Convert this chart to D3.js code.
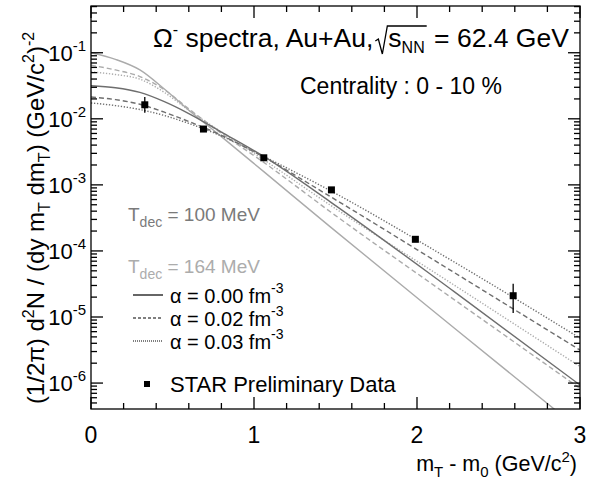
<!DOCTYPE html>
<html>
<head>
<meta charset="utf-8">
<script src="https://cdn.jsdelivr.net/npm/d3@7"></script>
<style>
  body { margin: 0; background: #fff; }
  text { font-family: "Liberation Sans", Arial, sans-serif; white-space: pre; }
</style>
</head>
<body>
<svg id="chart" width="595" height="479"></svg>
<script>
// curve sample positions (GeV/c^2)
const curveX = [0, 0.15, 0.3, 0.45, 0.6, 0.8, 1.06, 1.47, 2.23, 3.0];
// log10 of yield
const t164a00 = [-1.00, -1.10, -1.26, -1.55, -1.87, -2.27, -2.80, -3.64, -5.17, -6.71];
const t164a02 = [-1.19, -1.26, -1.36, -1.56, -1.85, -2.22, -2.66, -3.41, -4.74, -6.08];
const t164a03 = [-1.29, -1.33, -1.40, -1.60, -1.87, -2.20, -2.62, -3.31, -4.52, -5.75];
const t100a00 = [-1.50, -1.53, -1.60, -1.74, -1.92, -2.20, -2.57, -3.26, -4.62, -6.03];
const t100a02 = [-1.67, -1.71, -1.78, -1.90, -2.04, -2.25, -2.58, -3.18, -4.33, -5.50];
const t100a03 = [-1.76, -1.80, -1.86, -1.95, -2.07, -2.26, -2.57, -3.09, -4.17, -5.32];

// STAR preliminary data
const dataX = [0.33, 0.69, 1.06, 1.475, 1.99, 2.59];
const dataY = [1.63e-2, 7.0e-3, 2.57e-3, 8.4e-4, 1.5e-4, 2.1e-5];
const dataLo = [1.23e-2, 6.6e-3, 2.45e-3, 8.0e-4, 1.43e-4, 1.15e-5];
const dataHi = [2.14e-2, 7.4e-3, 2.7e-3, 8.8e-4, 1.58e-4, 3.2e-5];

const xMajor = [0, 1, 2, 3];
const yMajor = [1e-6, 1e-5, 1e-4, 1e-3, 1e-2, 1e-1];
const yExp = ["-6", "-5", "-4", "-3", "-2", "-1"];

const svg = d3.select("#chart");
const pLeft = 91, pRight = 580, pTop = 6, pBottom = 409;

const x = d3.scaleLinear().domain([0, 3]).range([pLeft, pRight]);
const y = d3.scaleLog().domain([4.05e-7, 0.51]).range([pBottom, pTop]);

const darkGray = "#6e6e6e", lightGray = "#ababab";

// lays out runs of text one after another
function richText(g, x0, y0, runs, opts) {
  opts = opts || {};
  const base = opts.size || 20;
  const grp = g.append("g");
  let cx = 0;
  const placed = [];
  runs.forEach(r => {
    const size = r.size || base;
    const t = grp.append("text")
      .attr("x", cx).attr("y", r.dy || 0)
      .style("font-size", size + "px")
      .style("fill", opts.fill || "#000")
      .text(r.t);
    const w = t.node().getComputedTextLength();
    placed.push({x: cx, w: w});
    cx += w + (r.gap || 0);
  });
  let sx = x0;
  if (opts.anchor === "end") sx = x0 - cx;
  if (opts.anchor === "middle") sx = x0 - cx / 2;
  if (opts.rotate) {
    grp.attr("transform", "translate(" + x0 + "," + y0 + ") rotate(" + opts.rotate + ") translate(" + (-cx / 2) + ",0)");
  } else {
    grp.attr("transform", "translate(" + sx + "," + y0 + ")");
  }
  return {grp: grp, placed: placed, width: cx, start: sx};
}

svg.append("clipPath").attr("id", "plot-clip")
  .append("rect").attr("x", pLeft).attr("y", pTop)
  .attr("width", pRight - pLeft).attr("height", pBottom - pTop);

// curves
const line = d3.line()
  .x((d, i) => x(curveX[i]))
  .y(d => y(Math.pow(10, d)))
  .curve(d3.curveMonotoneX);

const curves = [
  {v: t164a00, c: lightGray, dash: null},
  {v: t164a02, c: lightGray, dash: "5,3"},
  {v: t164a03, c: lightGray, dash: "1.3,1.7"},
  {v: t100a00, c: darkGray, dash: null},
  {v: t100a02, c: darkGray, dash: "5,3"},
  {v: t100a03, c: darkGray, dash: "1.3,1.7"}
];

svg.append("g").attr("clip-path", "url(#plot-clip)")
  .selectAll(".curve")
  .data(curves)
  .enter()
  .append("path")
  .attr("class", "curve")
  .attr("d", d => line(d.v))
  .style("fill", "none")
  .style("stroke", d => d.c)
  .style("stroke-width", 1.4)
  .style("stroke-dasharray", d => d.dash);

// data points
const pts = svg.append("g").selectAll(".pt")
  .data(dataX.map((d, i) => ({x: d, y: dataY[i], lo: dataLo[i], hi: dataHi[i]})))
  .enter().append("g").attr("class", "pt");
pts.append("line")
  .attr("x1", d => x(d.x)).attr("x2", d => x(d.x))
  .attr("y1", d => y(d.lo)).attr("y2", d => y(d.hi))
  .style("stroke", "#000").style("stroke-width", 1.3);
pts.append("rect")
  .attr("x", d => x(d.x) - 3.5).attr("y", d => y(d.y) - 3.5)
  .attr("width", 7).attr("height", 7)
  .style("fill", "#000");

// frame and ticks
const axes = svg.append("g").style("stroke", "#000").style("stroke-width", 1.3);
axes.append("rect")
  .attr("x", pLeft).attr("y", pTop)
  .attr("width", pRight - pLeft).attr("height", pBottom - pTop)
  .style("fill", "none");

const xMinor = d3.range(0, 3.01, 0.2).filter(v => Math.abs(v - Math.round(v)) > 1e-6);
const yMinor = [];
yMajor.concat([1e-7]).forEach(dec => {
  for (let k = 2; k <= 9; k++) {
    const v = dec * k;
    if (v > y.domain()[0] && v < y.domain()[1]) yMinor.push(v);
  }
});

function xTicks(vals, len) {
  vals.forEach(v => {
    axes.append("line").attr("x1", x(v)).attr("x2", x(v)).attr("y1", pBottom).attr("y2", pBottom - len);
    axes.append("line").attr("x1", x(v)).attr("x2", x(v)).attr("y1", pTop).attr("y2", pTop + len);
  });
}
function yTicks(vals, len) {
  vals.forEach(v => {
    axes.append("line").attr("y1", y(v)).attr("y2", y(v)).attr("x1", pLeft).attr("x2", pLeft + len);
    axes.append("line").attr("y1", y(v)).attr("y2", y(v)).attr("x1", pRight).attr("x2", pRight - len);
  });
}
xTicks(xMajor, 12);
xTicks(xMinor, 6);
yTicks(yMajor, 12);
yTicks(yMinor, 6);

// tick labels
const labels = svg.append("g");
xMajor.forEach(v => {
  labels.append("text").attr("x", x(v)).attr("y", 443)
    .attr("text-anchor", "middle").style("font-size", "23px").text(v);
});
yMajor.forEach((v, i) => {
  richText(labels, 86, y(v) + 8, [{t: "10"}, {t: yExp[i], size: 15, dy: -10}], {size: 22, anchor: "end"});
});

// axis titles
richText(svg, 577, 471, [
  {t: "m"}, {t: "T", size: 15, dy: 6}, {t: " - m"}, {t: "0", size: 15, dy: 6},
  {t: " (GeV/c"}, {t: "2", size: 15, dy: -9}, {t: ")"}
], {size: 21.5, anchor: "end"});

richText(svg, 44, 218, [
  {t: "(1/2\u03c0) d"}, {t: "2", size: 16, dy: -10}, {t: "N / (dy m"}, {t: "T", size: 16, dy: 6},
  {t: " dm"}, {t: "T", size: 16, dy: 6}, {t: ") (GeV/c"}, {t: "2", size: 16, dy: -10}, {t: ")"},
  {t: "-2", size: 16, dy: -10}
], {size: 24, rotate: -90});

// title with radical
const title = richText(svg, 153, 47, [
  {t: "\u03a9"}, {t: "-", size: 16, dy: -12}, {t: " spectra, Au+Au,", gap: 15},
  {t: "s"}, {t: "NN", size: 16, dy: 6, gap: 2}, {t: " = 62.4 GeV"}
], {size: 26.5});
{
  const p = title.placed;
  const sStart = p[3].x + title.start - 1;
  const sEnd = p[4].x + p[4].w + title.start + 2;
  const radStart = sStart - 12;
  svg.append("path")
    .attr("d", "M" + radStart + ",41 L" + (radStart + 3) + ",39" +
      " L" + (radStart + 7) + ",54 L" + sStart + ",26 L" + sEnd + ",26")
    .style("fill", "none").style("stroke", "#000").style("stroke-width", 1.3);
}

svg.append("text").attr("x", 300).attr("y", 94)
  .style("font-size", "23px").text("Centrality : 0 - 10 %");

// temperature labels
richText(svg, 128, 221, [{t: "T"}, {t: "dec", size: 14, dy: 6}, {t: " = 100 MeV"}], {size: 19, fill: "#7a7a7a"});
richText(svg, 128, 273, [{t: "T"}, {t: "dec", size: 14, dy: 6}, {t: " = 164 MeV"}], {size: 19, fill: "#acacac"});

// legend
const legendAlpha = ["0.00", "0.02", "0.03"];
const legendDash = [null, "3,2", "1,1"];
legendAlpha.forEach((a, i) => {
  const ly = 295 + i * 23;
  svg.append("line").attr("x1", 133).attr("x2", 163).attr("y1", ly).attr("y2", ly)
    .style("stroke", "#000").style("stroke-width", 1.2).style("stroke-dasharray", legendDash[i]);
  richText(svg, 170, ly + 8, [{t: "\u03b1 = " + a + " fm"}, {t: "-3", size: 14, dy: -10}], {size: 20});
});
svg.append("rect").attr("x", 144).attr("y", 381).attr("width", 6).attr("height", 6).style("fill", "#000");
svg.append("text").attr("x", 170).attr("y", 392).style("font-size", "22px").text("STAR Preliminary Data");
</script>
</body>
</html>
